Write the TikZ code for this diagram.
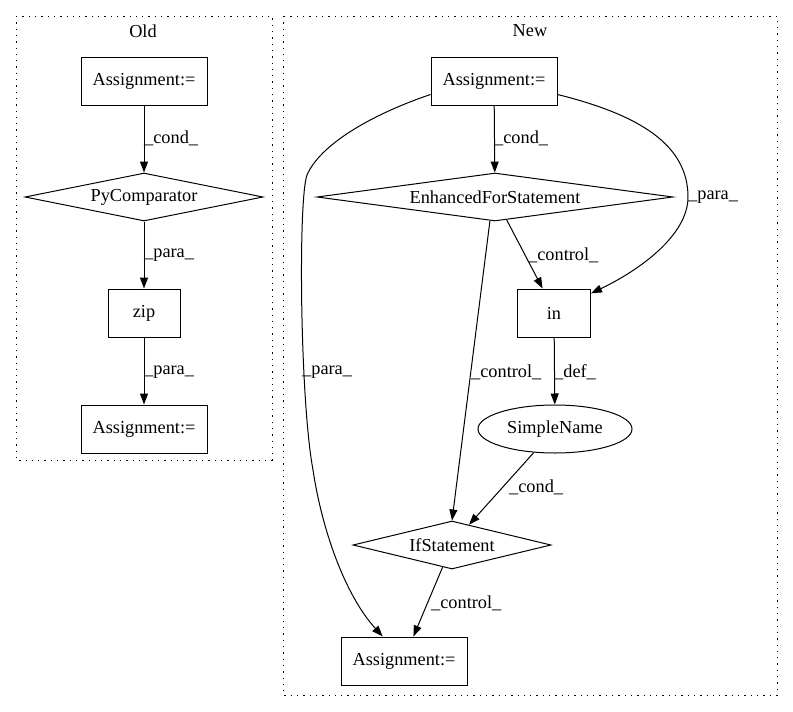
\documentclass[tikz,border=0pt]{standalone}
\usepackage{fontspec}
\setmainfont{Liberation Serif}
\usetikzlibrary{arrows.meta,shapes.geometric}
\tikzset{
  base/.style={draw, line width=1pt, inner sep=0pt, font=\fontsize{18.3}{22}\selectfont, minimum height=48pt},
  box/.style={base, rectangle},
  dia/.style={base, diamond, aspect=7},
  ell/.style={base, ellipse},
  edge/.style={line width=1pt, -{Triangle[length=11pt,width=8pt]}},
  elab/.style={anchor=west, inner sep=0pt, font=\fontsize{18.3}{22}\selectfont},
  clus/.style={draw, line width=1pt, dash pattern=on 1.3pt off 5pt},
  clab/.style={inner sep=0pt, font=\fontsize{18.3}{22}\selectfont}
}
\begin{document}
\begin{tikzpicture}[x=1pt,y=-1pt]
\useasboundingbox (0,0) rectangle (793,712);
% clusters
\draw[clus] (16,16) rectangle (272,460);
\node[clab] (oldlab) at (143,31) {Old};
\draw[clus] (283,16) rectangle (777,695);
\node[clab] (newlab) at (530,31) {New};
% Old nodes
\node[box, minimum width=126pt] (o1) at (144,81) {Assignment:=};
\node[dia, minimum width=238pt] (o2) at (144,197) {PyComparator};
\node[box, minimum width=72pt] (o3) at (144,313) {zip};
\node[box, minimum width=126pt] (o4) at (144,429) {Assignment:=};
% New nodes
\node[box, minimum width=126pt] (n1) at (494,81) {Assignment:=};
\node[dia, minimum width=356pt] (nef) at (495,197) {EnhancedForStatement};
\node[box, minimum width=73pt] (nin) at (554,313) {in};
\node[ell, minimum width=154pt] (nsn) at (555,429) {SimpleName};
\node[dia, minimum width=198pt] (nif) at (452,545) {IfStatement};
\node[box, minimum width=126pt] (n3) at (404,661) {Assignment:=};
% Old edges
\draw[edge] (o1) -- (o2);
\draw[edge] (o2) -- (o3);
\draw[edge] (o3) -- (o4);
\node[elab] (l1) at (144,138) {\_cond\_};
\node[elab] (l2) at (144,255) {\_para\_};
\node[elab] (l3) at (144,372) {\_para\_};
% New edges
\draw[edge] (n1) -- (nef);
\node[elab] (l4) at (494,138) {\_cond\_};
\draw[edge] (n1.-12.5) .. controls (640,115) and (688,145) .. (688,197)
  .. controls (688,235) and (640,270) .. (nin.28);
\node[elab] (l5) at (688,197) {\_para\_};
\draw[edge] (n1.192.5) .. controls (370,115) and (320,145) .. (307,175)
  .. controls (298,200) and (300,400) .. (313,470)
  .. controls (322,530) and (345,595) .. (n3.131);
\node[elab] (l6) at (302,372) {\_para\_};
\draw[edge] (nef.297) -- (nin.115);
\node[elab] (l7) at (528,255) {\_control\_};
\draw[edge] (nef.258) -- (nif.north);
\node[elab] (l8) at (471,372) {\_control\_};
\draw[edge] (nin) -- (nsn);
\node[elab] (l9) at (554,372) {\_def\_};
\draw[edge] (nsn.228) -- (nif.50);
\node[elab] (l10) at (509,487) {\_cond\_};
\draw[edge] (nif.247) -- (n3.69);
\node[elab] (l11) at (431,603) {\_control\_};
\end{tikzpicture}
\end{document}
